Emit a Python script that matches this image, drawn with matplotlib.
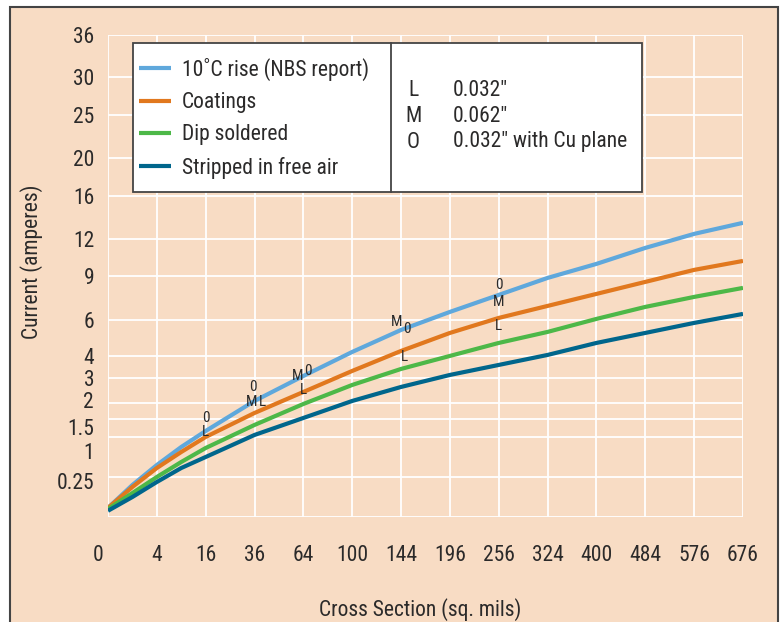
import numpy as np
import matplotlib.pyplot as plt
from matplotlib.patches import Rectangle
from matplotlib.lines import Line2D
import matplotlib.transforms as mtransforms

plt.rcParams['font.family'] = ['Roboto Condensed', 'DejaVu Sans']

# ===== data =====
cross_section = [0, 1, 4, 9, 16, 36, 64, 100, 144, 196, 256, 324, 400, 484, 576, 676]
rise_nbs = [0.013, 0.159, 0.419, 0.760, 1.147, 2.087, 3.083, 4.222, 5.423, 6.517, 7.643, 8.858, 9.927, 11.22, 12.42, 13.41]
coatings = [0.013, 0.140, 0.372, 0.655, 0.993, 1.677, 2.423, 3.306, 4.273, 5.250, 6.141, 6.904, 7.712, 8.564, 9.462, 10.16]
dip_soldered = [0.010, 0.089, 0.248, 0.469, 0.738, 1.313, 1.980, 2.702, 3.397, 4.020, 4.695, 5.308, 6.080, 6.839, 7.506, 8.133]
stripped_air = [0.006, 0.062, 0.190, 0.372, 0.558, 1.043, 1.520, 2.087, 2.621, 3.127, 3.583, 4.070, 4.695, 5.250, 5.837, 6.391]

series_labels = ["10˚C rise (NBS report)", "Coatings", "Dip soldered", "Stripped in free air"]
series_colors = ["#5FA8DC", "#E1781E", "#4DB848", "#00668C"]

x_ticks = [0, 4, 16, 36, 64, 100, 144, 196, 256, 324, 400, 484, 576, 676]
y_ticks = [0, 0.25, 1, 1.5, 2, 3, 4, 6, 9, 12, 16, 20, 25, 30, 36]
y_ticklabels = ["", "0.25", "1", "1.5", "2", "3", "4", "6", "9", "12", "16", "20", "25", "30", "36"]

# board thickness markers on the curves
mark_text = ["0", "L", "0", "M", "L", "M", "0", "L", "M", "0", "L", "0", "M", "L"]
mark_x = [16, 16, 35, 34.5, 40, 60, 67, 64, 140, 150, 147, 256, 256, 256]
mark_y = [1.53, 1.13, 2.6, 2.05, 2.05, 3.06, 3.29, 2.48, 5.88, 5.46, 3.95, 8.34, 7.16, 5.64]

key_letters = ["L", "M", "O"]
key_desc = ["0.032″", "0.062″", "0.032″ with Cu plane"]

bg = "#F8DCC4"
txt = "#2B2A2A"

fig = plt.figure(figsize=(7.83, 6.22), dpi=100)
fig.patches.append(Rectangle((10 / 783, -0.02), 768 / 783, 1.02 - 7 / 622,
                             transform=fig.transFigure, facecolor=bg,
                             edgecolor="#444444", lw=1.5, zorder=-10))

ax = fig.add_axes([108 / 783, 1 - 517 / 622, 635 / 783, 482 / 622])
ax.set_facecolor(bg)

sq = lambda v: np.sqrt(np.clip(v, 0, None))
ax.set_xscale('function', functions=(sq, np.square))
ax.set_yscale('function', functions=(sq, np.square))

for vals, lab, col in zip([rise_nbs, coatings, dip_soldered, stripped_air], series_labels, series_colors):
    ax.plot(cross_section, vals, color=col, lw=3, label=lab, solid_capstyle='butt',
            solid_joinstyle='round', zorder=3)

for t, xx, yy in zip(mark_text, mark_x, mark_y):
    ax.text(xx, yy, t, fontsize=11, color=txt, ha='center', va='center', zorder=4)

ax.set_xlim(0, 676)
ax.set_ylim(0, 36)
ax.set_xticks(x_ticks)
ax.set_xticklabels([str(v) for v in x_ticks])
ax.set_yticks(y_ticks)
ax.set_yticklabels(y_ticklabels)
ax.grid(True, color="white", lw=1.3, zorder=1)
ax.set_axisbelow(True)
for s in ax.spines.values():
    s.set_visible(False)
ax.tick_params(length=0, labelsize=15.5, labelcolor=txt)
ax.tick_params(axis='x', pad=20)
ax.tick_params(axis='y', pad=10)

# label nudges as in the original artwork (pixels)
def nudge(lbl, dx, dy):
    lbl.set_transform(lbl.get_transform() + mtransforms.ScaledTranslation(dx / 100, dy / 100, fig.dpi_scale_trans))

nudge(ax.get_xticklabels()[0], -10, 0)
ylbls = ax.get_yticklabels()
nudge(ylbls[1], 0, -4)   # 0.25
nudge(ylbls[2], 0, -14)  # 1
nudge(ylbls[3], 0, -8)   # 1.5
nudge(ylbls[4], 0, 3)    # 2

ax.set_xlabel("Cross Section (sq. mils)", fontsize=15.5, color=txt)
ax.set_ylabel("Current (amperes)", fontsize=15.5, color=txt)
ax.xaxis.set_label_coords((420 - 108) / 635, (517 - 598) / 482)
ax.yaxis.set_label_coords((43 - 108) / 635, (517 - 262) / 482)

# key box
bx0, bx1, bdiv = (133 - 108) / 635, (642 - 108) / 635, (391 - 108) / 635
by0, by1 = (517 - 192) / 482, (517 - 43) / 482
ax.add_patch(Rectangle((bx0, by0), bx1 - bx0, by1 - by0, transform=ax.transAxes,
                       facecolor="white", edgecolor="#444444", lw=1.3, zorder=5))
ax.add_line(Line2D([bdiv, bdiv], [by0, by1], transform=ax.transAxes, color="#444444", lw=1.3, zorder=6))

leg = ax.legend(loc='upper left', bbox_to_anchor=((139 - 108) / 635, (517 - 58) / 482),
                frameon=False, fontsize=15.5, handlelength=1.5, handletextpad=0.5,
                labelspacing=0.52, borderaxespad=0, borderpad=0)
leg.set_zorder(7)
for t in leg.get_texts():
    t.set_color(txt)

for i, (k, d) in enumerate(zip(key_letters, key_desc)):
    yy = (517 - (91 + 25.5 * i)) / 482
    ax.text((413 - 108) / 635, yy, k, transform=ax.transAxes, fontsize=15.5, color=txt,
            ha='center', va='center', zorder=7)
    ax.text((453 - 108) / 635, yy, d, transform=ax.transAxes, fontsize=15.5, color=txt,
            ha='left', va='center', zorder=7)

fig.savefig("out.png", dpi=100, facecolor="white")
